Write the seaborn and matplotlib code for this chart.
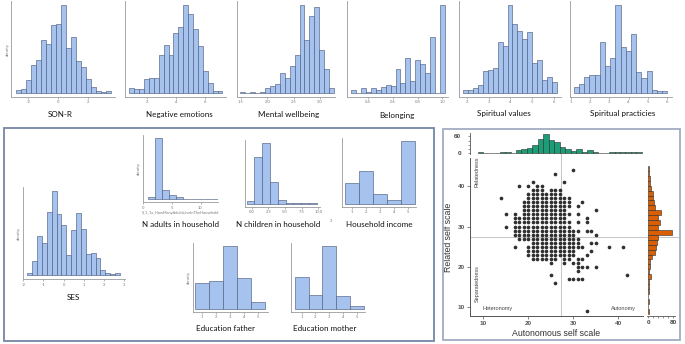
import numpy as np
import pandas as pd
import matplotlib
matplotlib.use("Agg")
import matplotlib.pyplot as plt
from matplotlib.patches import Rectangle
import seaborn as sns

sns.set_theme(style="white")
plt.rcParams['font.family'] = ['Lato', 'DejaVu Sans']

# ---------------- data (histogram bins: start, width, heights) ----------------
sonr_bins = (-2.82, 0.333)
sonr_h = [9, 12, 37, 82, 97, 159, 147, 202, 207, 262, 135, 167, 94, 77, 42, 17, 5, 2, 5]
sonr_ticks = [-2, 0, 2]

neg_bins = (0.81, 0.336)
neg_h = [15, 12, 12, 39, 42, 42, 112, 139, 112, 177, 192, 257, 232, 187, 137, 65, 27, 5, 5]
neg_ticks = [2, 4, 6]

mw_bins = (1.487, 0.0937)
mw_h = [2, 0, 2, 0, 2, 15, 19, 25, 57, 44, 77, 109, 255, 154, 225, 249, 125, 69, 15]
mw_ticks = [1.5, 2.0, 2.5, 3.0]

bel_bins = (0.26, 0.0401)
bel_h = [9, 0, 14, 2, 14, 7, 15, 21, 19, 67, 27, 99, 35, 94, 82, 57, 162, 0, 252]
bel_ticks = [0.4, 0.6, 0.8, 1.0]

sv_bins = (1.85, 0.224)
sv_h = [7, 7, 15, 22, 64, 67, 72, 149, 135, 255, 202, 180, 157, 177, 87, 95, 37, 47, 31]
sv_ticks = [2, 3, 4, 5, 6]

sp_bins = (1.17, 0.269)
sp_h = [17, 24, 45, 51, 51, 147, 79, 100, 255, 132, 122, 172, 59, 42, 64, 9, 6, 6]
sp_ticks = [1, 2, 3, 4, 5, 6]

ses_bins = (-1.8, 0.242)
ses_h = [8, 45, 122, 100, 195, 262, 190, 155, 62, 140, 193, 145, 65, 70, 52, 15, 8, 3, 8]
ses_ticks = [-2, -1, 0, 1, 2, 3]

adults_bins = (0.87, 1.21)
adults_h = [8, 190, 30, 12, 8, 2, 1, 1, 1, 1]
adults_ticks = [0, 5, 10]

children_bins = (-0.75, 1.17)
children_h = [8, 145, 188, 68, 11, 3, 1, 1, 1]
children_ticks = [0.0, 2.5, 5.0, 7.5, 10.0]
children_labels = ["0.0", "2.5", "5.0", "7.5", "10.0"]

income_bins = (0.5, 1.0)
income_h = [65, 100, 30, 10, 193]
edu_father_h = [78, 85, 191, 95, 21]
edu_mother_h = [96, 43, 191, 40, 7]
level_ticks = [1, 2, 3, 4, 5]

# scatter: Related self scale value -> Autonomous self scale values on that row
scatter_rows = {
    44: [30],
    43: [26],
    41: [21, 28],
    40: [18, 20, 22, 23],
    39: [21, 22, 23, 25, 26, 27],
    38: [20, 21, 22, 23, 24, 25, 26, 27],
    37: [14, 20, 21, 22, 23, 24, 25, 26, 27, 28, 29],
    36: [19, 20, 21, 22, 23, 24, 25, 26, 27, 28, 29, 32],
    35: [19, 20, 21, 22, 23, 24, 25, 26, 27, 28, 29, 31],
    34: [19, 20, 21, 22, 23, 24, 25, 26, 27, 28, 35],
    33: [15, 17, 19, 20, 21, 22, 23, 24, 25, 26, 27, 28, 29, 31],
    32: [17, 18, 19, 20, 21, 22, 23, 24, 25, 26, 27, 28, 33],
    31: [17, 18, 19, 20, 21, 22, 23, 24, 25, 26, 27, 28, 29, 31, 33],
    30: [15, 17, 18, 19, 20, 21, 22, 23, 24, 25, 26, 27, 28, 29],
    29: [17, 18, 19, 20, 21, 22, 23, 24, 25, 26, 27, 28, 29, 30, 31, 33, 34],
    28: [17, 18, 19, 20, 21, 22, 23, 24, 25, 26, 27, 28, 29, 30, 35],
    27: [18, 19, 20, 21, 22, 23, 24, 25, 26, 27, 28, 29, 30, 31],
    26: [21, 22, 23, 24, 25, 26, 27, 28, 29, 30, 31, 34, 35],
    25: [17, 20, 21, 22, 23, 24, 25, 26, 27, 28, 29, 30, 31, 32, 38, 41],
    24: [20, 21, 22, 23, 24, 25, 26, 27, 28, 29, 30, 34],
    23: [20, 21, 22, 23, 24, 25, 26, 27, 28, 29, 30, 33],
    22: [21, 22, 23, 24, 25, 26, 28, 29, 31, 32],
    21: [25, 28, 30, 31],
    20: [31, 32, 33, 35],
    19: [31],
    18: [25, 42],
    17: [29, 30, 31, 32],
    16: [26],
    9: [33],
}
auton_median = 27.3
related_median = 27.5

auton_bins = (8.8, 1.215)
auton_counts = [1, 0, 0, 0, 1, 1, 0, 10, 12, 19, 27, 50, 69, 46, 41, 21, 15, 6, 12, 4,
                9, 4, 0, 0, 1, 1, 1, 1, 1, 1]
related_bins = (8.4, 1.22)
related_counts = [1, 0, 1, 0, 1, 1, 2, 7, 3, 4, 6, 12, 22, 24, 27, 32, 75, 32, 37, 30,
                  42, 21, 18, 16, 15, 8, 5, 4, 3, 2]

# ---------------- figure ----------------
W, H = 685, 344
fig = plt.figure(figsize=(W / 100, H / 100), dpi=100)
fig.patch.set_facecolor("white")

BLUE = "#a6c3f0"
EDGE = "#4f5f7e"
SPINE = "#9a9a9a"
TICKC = "#7a7a7a"
TITLE_FS = 5.8


def add_ax(x0, x1, ytop, ybot):
    return fig.add_axes([x0 / W, 1 - ybot / H, (x1 - x0) / W, (ybot - ytop) / H])


def hist_frame(bins, heights):
    start, width = bins
    edges = [start + width * i for i in range(len(heights) + 1)]
    centers = [(edges[i] + edges[i + 1]) / 2 for i in range(len(heights))]
    return pd.DataFrame({"v": centers, "w": list(heights)}), edges


def hist_panel(rect, bins, heights, xlim, ticks, title, title_xy,
               ticklabels=None, density=False, xlabel=None):
    ax = add_ax(*rect)
    df, e = hist_frame(bins, heights)
    sns.histplot(data=df, x="v", weights="w", bins=e, ax=ax, color=BLUE, edgecolor=EDGE,
                 linewidth=0.45, alpha=1)
    M = max(heights)
    ax.set_ylim(-0.05 * M, 1.05 * M)
    ax.set_xlim(*xlim)
    ax.set_facecolor("none")
    for s in ["top", "right"]:
        ax.spines[s].set_visible(False)
    for s in ["left", "bottom"]:
        ax.spines[s].set_color(SPINE)
        ax.spines[s].set_linewidth(0.6)
    ax.set_yticks([])
    ax.set_xticks(ticks)
    if ticklabels is None:
        ticklabels = [str(t) for t in ticks]
    ax.set_xticklabels(ticklabels)
    ax.tick_params(axis="x", labelsize=3, colors=TICKC, length=1.5, width=0.4, pad=1,
                   bottom=True)
    ax.set_ylabel("density" if density else "", fontsize=3, color=TICKC, labelpad=1)
    if xlabel:
        ax.set_xlabel(xlabel, fontsize=2.8, color=TICKC, labelpad=1)
    else:
        ax.set_xlabel("")
    fig.text(title_xy[0] / W, 1 - title_xy[1] / H, title, ha="center", va="center",
             fontsize=TITLE_FS, color="#111111")
    return ax


# top row
hist_panel((11, 115, 1, 97), sonr_bins, sonr_h, (-3.15, 3.78), sonr_ticks, "SON-R", (60, 115),
           density=True)
hist_panel((125, 225.7, 1, 97), neg_bins, neg_h, (0.51, 7.42), neg_ticks, "Negative emotions",
           (179, 115))
hist_panel((236.7, 335, 1, 97), mw_bins, mw_h, (1.418, 3.285), mw_ticks, "Mental wellbeing",
           (289, 115), ticklabels=["1.5", "2.0", "2.5", "3.0"])
hist_panel((346.7, 447.7, 1, 97), bel_bins, bel_h, (0.225, 1.044), bel_ticks, "Belonging",
           (397, 116), ticklabels=["0.4", "0.6", "0.8", "1.0"])
hist_panel((459, 561, 1, 97), sv_bins, sv_h, (1.65, 6.31), sv_ticks, "Spiritual values",
           (504, 114))
hist_panel((570, 671.7, 1, 97), sp_bins, sp_h, (0.97, 6.23), sp_ticks, "Spiritual practicies",
           (623, 114))

# bottom-left box
fig.add_artist(Rectangle((4 / W, 1 - 341 / H), (434 - 4) / W, (341 - 128) / H,
                         transform=fig.transFigure, fill=False, edgecolor="#7486a6", lw=1.3))
hist_panel((22.7, 125, 186.7, 279.3), ses_bins, ses_h, (-2.03, 3.05), ses_ticks, "SES",
           (73, 297), density=True)
hist_panel((142.7, 218.3, 135, 202.3), adults_bins, adults_h, (-0.1, 13.1), adults_ticks,
           "N adults in household", (181, 224.5), density=True,
           xlabel="S_1_1a_HowManyAdultsLiveInTheHousehold")
hist_panel((245, 320, 140, 206.7), children_bins, children_h, (-1.0, 10.25), children_ticks,
           "N children in household", (278, 224.5), ticklabels=children_labels)
hist_panel((342.3, 416, 138.3, 206.7), income_bins, income_h, (0.34, 5.54), level_ticks,
           "Household income", (379, 224.5))
hist_panel((192.7, 268.3, 243.3, 311.7), income_bins, edu_father_h, (0.31, 5.77), level_ticks,
           "Education father", (226, 328.5), density=True)
hist_panel((291, 365, 243.3, 311.7), income_bins, edu_mother_h, (0.22, 5.6), level_ticks,
           "Education mother", (325, 328.5))
fig.text(331 / W, 1 - 221 / H, "3", fontsize=3, color=TICKC, ha="center", va="center")

# right box
fig.add_artist(Rectangle((443 / W, 1 - 340 / H), (680 - 443) / W, (340 - 129) / H,
                         transform=fig.transFigure, fill=False, edgecolor="#a3adc2", lw=1.3))

sx, sy = [], []
for yv, xs in scatter_rows.items():
    for xv in xs:
        sx.append(xv)
        sy.append(yv)
sdf = pd.DataFrame({"auton": sx, "related": sy})

SFONT = ["Liberation Sans", "DejaVu Sans"]
XL = (7.1, 45.5)
YL = (7.8, 47.0)

axs = add_ax(470, 643, 158, 316)
sns.scatterplot(data=sdf, x="auton", y="related", ax=axs, color="#303030", s=7, linewidth=0,
                legend=False, zorder=3)
axs.set_xlim(*XL)
axs.set_ylim(*YL)
axs.axvline(auton_median, ymin=0, ymax=(316 - 151) / (316 - 158), color="#c4c4c4", lw=0.7,
            clip_on=False, zorder=1)
axs.axhline(related_median, xmin=0, xmax=(679 - 470) / (643 - 470), color="#c4c4c4", lw=0.7,
            clip_on=False, zorder=1)
for s in ["top", "right"]:
    axs.spines[s].set_visible(False)
for s in ["left", "bottom"]:
    axs.spines[s].set_color("#555555")
    axs.spines[s].set_linewidth(0.7)
axs.set_xticks([10, 20, 30, 40])
axs.set_yticks([10, 20, 30, 40])
for lab in axs.get_xticklabels() + axs.get_yticklabels():
    lab.set_family(SFONT)
    lab.set_fontweight("bold")
    lab.set_fontsize(4.6)
    lab.set_color("#333333")
axs.tick_params(length=2, width=0.5, colors="#555555", pad=1.5, bottom=True, left=True)
axs.set_xlabel("Autonomous self scale", fontsize=6.3, family=SFONT, color="#333333",
               labelpad=2.5)
axs.set_ylabel("Related self scale", fontsize=6.3, family=SFONT, color="#333333", labelpad=3.5)
axs.set_facecolor("none")


def ftxt(x, y, s, **kw):
    fig.text(x / W, 1 - y / H, s, fontsize=4.0, family=SFONT, color="#444444",
             ha="center", va="center", **kw)


ftxt(477, 172, "Relatedness", rotation=90)
ftxt(477, 284, "Separatedness", rotation=90)
ftxt(498, 308.5, "Heteronomy")
ftxt(623, 308.5, "Autonomy")

# top marginal
axt = add_ax(470, 643, 133, 153.7)
tdf, e = hist_frame(auton_bins, auton_counts)
sns.histplot(data=tdf, x="v", weights="w", bins=e, ax=axt, color="#1b9e77",
             edgecolor="#2b2b2b", linewidth=0.4, alpha=1)
axt.set_xlim(*XL)
axt.set_ylim(-4, 73)
for s in ["top", "right", "bottom"]:
    axt.spines[s].set_visible(False)
axt.spines["left"].set_color("#555555")
axt.spines["left"].set_linewidth(0.6)
axt.set_xticks([])
axt.set_yticks([0, 15, 30, 45, 60])
axt.set_yticklabels(["0", "", "", "", "60"])
for lab in axt.get_yticklabels():
    lab.set_family(SFONT)
    lab.set_fontweight("bold")
    lab.set_fontsize(4.6)
axt.tick_params(axis="y", length=1.5, width=0.4, colors="#444444", pad=5, left=True)
axt.set_xlabel("")
axt.set_ylabel("")
axt.set_facecolor("none")

# right marginal
axr = add_ax(647.3, 675, 158, 316)
rdf, e = hist_frame(related_bins, related_counts)
sns.histplot(data=rdf, y="v", weights="w", bins=e, ax=axr, color="#d95f02",
             edgecolor="#2b2b2b", linewidth=0.4, alpha=1)
axr.set_ylim(*YL)
axr.set_xlim(-3.2, 85)
for s in ["top", "right", "left"]:
    axr.spines[s].set_visible(False)
axr.spines["bottom"].set_color("#555555")
axr.spines["bottom"].set_linewidth(0.6)
axr.set_yticks([])
axr.set_xticks([0, 16, 32, 48, 64, 80])
axr.set_xticklabels(["0", "", "", "", "", "80"])
for lab in axr.get_xticklabels():
    lab.set_family(SFONT)
    lab.set_fontweight("bold")
    lab.set_fontsize(4.6)
axr.tick_params(axis="x", length=1.5, width=0.4, colors="#444444", pad=1.5, bottom=True)
axr.set_xlabel("")
axr.set_ylabel("")
axr.set_facecolor("none")

fig.savefig("out.png", dpi=100)
